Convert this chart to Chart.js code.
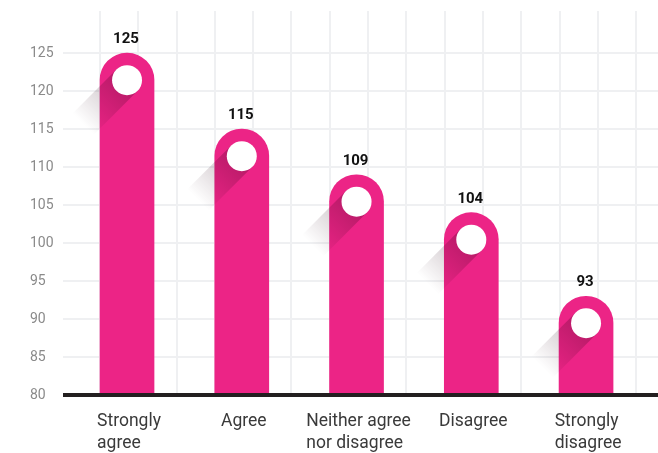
<!DOCTYPE html>
<html>
<head>
<meta charset="utf-8">
<script src="https://cdn.jsdelivr.net/npm/chart.js@4.4.1/dist/chart.umd.min.js"></script>
<style>
  html, body { margin: 0; padding: 0; background: #fff; }
  #wrap { width: 658px; height: 453px; }
</style>
</head>
<body>
<div id="wrap"><canvas id="chart"></canvas></div>
<script>
// Chart data
const categories = [['Strongly', 'agree'], ['Agree'], ['Neither agree', 'nor disagree'], ['Disagree'], ['Strongly', 'disagree']];
const responses = [125, 115, 109, 104, 93];
const yTickValues = [80, 85, 90, 95, 100, 105, 110, 115, 120, 125];

const PINK = '#EC2486';
const GRID = '#eff0f2';

/* bar decorations: long shadow, white dot, value label, baseline, x labels */
const decor = {
    id: 'decor',
    afterDatasetsDraw(chart) {
        const { ctx, chartArea, scales } = chart;
        const meta = chart.getDatasetMeta(0);

        meta.data.forEach((bar, i) => {
            const r = 15;
            const cx = bar.x;
            const cy = bar.y + bar.width / 2;
            const L = 62;
            const d = [-Math.SQRT1_2, Math.SQRT1_2];
            const n = [Math.SQRT1_2, Math.SQRT1_2];

            ctx.save();
            const g = ctx.createLinearGradient(cx, cy, cx + d[0] * L, cy + d[1] * L);
            g.addColorStop(0, 'rgba(40,0,20,0.28)');
            g.addColorStop(1, 'rgba(40,0,20,0)');
            ctx.fillStyle = g;
            ctx.beginPath();
            ctx.moveTo(cx + n[0] * r, cy + n[1] * r);
            ctx.lineTo(cx + n[0] * r + d[0] * L, cy + n[1] * r + d[1] * L);
            ctx.lineTo(cx - n[0] * r + d[0] * L, cy - n[1] * r + d[1] * L);
            ctx.lineTo(cx - n[0] * r, cy - n[1] * r);
            ctx.closePath();
            ctx.fill();

            ctx.fillStyle = '#ffffff';
            ctx.beginPath();
            ctx.arc(cx, cy, r, 0, Math.PI * 2);
            ctx.fill();

            ctx.fillStyle = '#111111';
            ctx.font = 'bold 15px Roboto';
            ctx.textAlign = 'center';
            ctx.textBaseline = 'alphabetic';
            ctx.fillText(String(responses[i]), cx - 1, bar.y - 10);
            ctx.restore();
        });

        // black baseline
        const yb = scales.y.getPixelForValue(yTickValues[0]);
        ctx.save();
        ctx.fillStyle = '#231f20';
        ctx.fillRect(chartArea.left, yb - 2, chart.width - chartArea.left, 4);

        // category labels, left-aligned block centred under bar
        ctx.font = '17.5px Roboto';
        ctx.fillStyle = '#3a3a3a';
        ctx.textAlign = 'left';
        ctx.textBaseline = 'alphabetic';
        categories.forEach((lines, i) => {
            const x = scales.x.getPixelForValue(i);
            const w = Math.max(...lines.map(t => ctx.measureText(t).width));
            lines.forEach((t, k) => ctx.fillText(t, x - w / 2 + 2, yb + 31 + k * 22));
        });
        ctx.restore();
    }
};

new Chart(document.getElementById('chart'), {
    type: 'bar',
    data: {
        datasets: [{
            data: responses.map((v, i) => ({ x: i, y: v })),
            backgroundColor: PINK,
            barThickness: 54,
            borderRadius: { topLeft: 27, topRight: 27, bottomLeft: 0, bottomRight: 0 },
            borderSkipped: 'start'
        }]
    },
    options: {
        responsive: true,
        maintainAspectRatio: false,
        animation: false,
        layout: { padding: { left: 30, top: 8, right: 0, bottom: 58 } },
        plugins: { legend: { display: false }, tooltip: { enabled: false } },
        scales: {
            x: {
                type: 'linear',
                display: false,
                offset: false,
                min: -0.558,
                max: 4.627
            },
            gx: {
                type: 'linear',
                position: 'top',
                offset: false,
                min: -0.966,
                max: 14.57,
                ticks: { display: false, stepSize: 1, includeBounds: false },
                grid: { color: GRID, lineWidth: 2, drawTicks: false, offset: false },
                border: { display: false }
            },
            y: {
                min: 80,
                max: 130.5,
                afterBuildTicks: s => { s.ticks = yTickValues.map(v => ({ value: v })); },
                afterFit: s => { s.width = 33; },
                ticks: {
                    crossAlign: 'far',
                    color: '#8a8a8a',
                    font: { family: 'Roboto', size: 14 }
                },
                grid: { color: GRID, lineWidth: 2, drawTicks: false },
                border: { display: false }
            }
        }
    },
    plugins: [decor]
});
</script>
</body>
</html>
